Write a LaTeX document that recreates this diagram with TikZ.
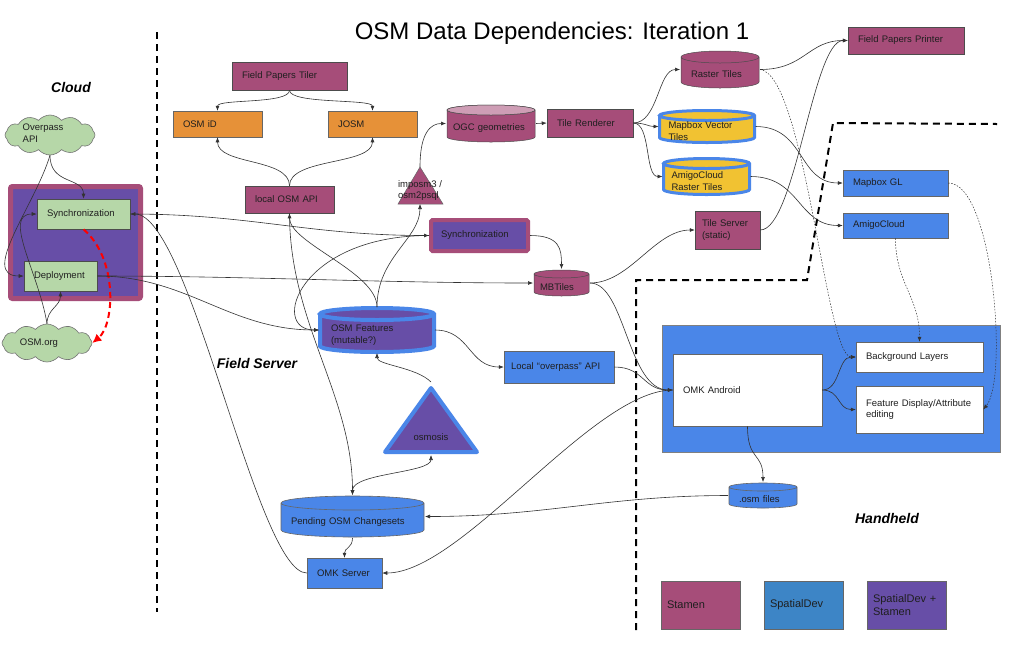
\documentclass[tikz,border=0pt]{standalone}
\usepackage{fontspec}
\setmainfont{Liberation Sans}
\usetikzlibrary{shapes.symbols,arrows.meta}

\definecolor{stm}{HTML}{A64D79}
\definecolor{spd}{HTML}{674EA7}
\definecolor{org}{HTML}{E69138}
\definecolor{grn}{HTML}{B6D7A8}
\definecolor{blu}{HTML}{4A86E8}
\definecolor{blutwo}{HTML}{3D85C6}
\definecolor{ylw}{HTML}{F1C232}
\definecolor{edgec}{HTML}{333333}
\definecolor{txt}{HTML}{1F1F1F}

\newcommand\mybox[7]{%
 \pgfmathsetmacro\mybw{#4-#2}%
 \pgfmathsetmacro\mybh{#5-#3}%
 \pgfmathsetmacro\mytw{#4-#2-20}%
 \pgfmathsetmacro\mycx{(#2+#4)/2}%
 \pgfmathsetmacro\mycy{(#3+#5)/2}%
 \node[minimum width=\mybw pt, minimum height=\mybh pt, text width=\mytw pt, inner xsep=10pt, inner ysep=0pt, align=left, #6] (#1) at (\mycx,\mycy) {#7};}

\newcommand\mycyl[9]{%
 \pgfmathsetmacro\myrx{(#4-#2)/2}%
 \pgfmathsetmacro\mycx{(#2+#4)/2}%
 \pgfmathsetmacro\mycy{(#3+#5)/2}%
 \pgfmathsetmacro\myty{(#3+#5)/2+#6/2+2}%
 \pgfmathsetmacro\mybw{#4-#2}%
 \pgfmathsetmacro\mybh{#5-#3}%
 \pgfmathsetmacro\mytw{#4-#2-2*#9}%
 \draw[#7] (#2,#3+#6) -- (#2,#5-#6) arc[start angle=180,end angle=360,x radius=\myrx pt,y radius=#6 pt] -- (#4,#3+#6) arc[start angle=0,end angle=360,x radius=\myrx pt,y radius=#6 pt];
 \node[inner sep=0pt, outer sep=1pt, minimum width=\mybw pt, minimum height=\mybh pt] (#1) at (\mycx,\mycy) {};
 \node[ntext, inner sep=0pt, text width=\mytw pt, align=left] at (\mycx,\myty) {#8};}

\begin{document}
\begin{tikzpicture}[x=1pt,y=-1pt,
  ntext/.style={text=txt, font=\fontsize{9.5}{11.5}\selectfont},
  stbox/.style={ntext, fill=stm, draw=black!70, line width=0.5pt},
  orbox/.style={ntext, fill=org, draw=black!60, line width=0.5pt},
  blbox/.style={ntext, fill=blu, draw=black!60, line width=0.5pt},
  wbox/.style={ntext, fill=white, draw=black!60, line width=0.5pt},
  gnbox/.style={ntext, fill=grn, draw=black!70, line width=0.6pt},
  syncbox/.style={ntext, fill=spd, draw=stm, line width=4pt, rounded corners=1.5pt},
  lgbox/.style={text=txt, font=\fontsize{11}{13}\selectfont, draw=black!60, line width=0.5pt, inner xsep=6pt, text width=67pt},
  cst/.style={fill=stm, draw=black!70, line width=0.5pt},
  ccyl/.style={fill=blu, draw=black!60, line width=0.6pt},
  cloudn/.style={cloud, cloud puffs=12, cloud puff arc=100, aspect=2.3, draw=black!55, fill=grn, line width=0.6pt, inner sep=0pt},
  ed/.style={draw=edgec, line width=0.6pt, -{Latex[length=5pt,width=4pt]}},
  dotl/.style={draw=edgec, line width=0.5pt, dash pattern=on 1.5pt off 1.5pt, -{Latex[length=5pt,width=4pt]}},
  bnd/.style={draw=black, line width=2pt, dash pattern=on 7pt off 5pt},
  zone/.style={text=black, font=\bfseries\itshape\fontsize{14}{16}\selectfont}
]
\useasboundingbox (0,0) rectangle (1024,649);
\fill[white] (0,0) rectangle (1024,649);

% title and zone labels
\node[text=black, font=\fontsize{24}{28}\selectfont] (title) at (552,33) {OSM Data Dependencies: Iteration 1};
\node[zone] (lcloud) at (71,87) {Cloud};
\node[zone] (lfield) at (257,363) {Field Server};
\node[zone] (lhand) at (887,518) {Handheld};

% boundaries
\coordinate (b1t) at (157,32);
\coordinate (b1b) at (157,612);
\draw[bnd] (b1t) -- (b1b);
\coordinate (h1) at (636,630);
\coordinate (h2) at (636,280);
\coordinate (h3) at (807,280);
\coordinate (h4) at (833,123);
\coordinate (h5) at (997,124);
\draw[bnd] (h1) -- (h2) -- (h3) -- (h4) -- (h5);

% ---------- Cloud ----------
\node[cloudn, minimum width=90pt, minimum height=40pt] (ovp) at (50,135) {};
\node[ntext, align=left] (ovpt) at (43,133) {Overpass\\API};
\node[cloudn, minimum width=90pt, minimum height=38pt] (osmorg) at (47,343) {};
\node[ntext] (osmorgt) at (39,343) {OSM.org};
\node[draw=stm, fill=spd, line width=5pt, rounded corners=2pt, minimum width=130pt, minimum height=112pt, inner sep=0pt] (cloudbox) at (75.5,242.5) {};
\mybox{csync}{37}{199}{130}{229}{gnbox}{Synchronization}
\mybox{dep}{24}{261}{97}{291}{gnbox}{Deployment}

% ---------- Field server ----------
\mybox{fpt}{232}{62}{347}{90}{stbox}{Field Papers Tiler}
\mybox{osmid}{173}{111}{262}{137}{orbox}{OSM iD}
\mybox{josm}{328}{111}{417}{137}{orbox}{JOSM}
\mybox{lapi}{245}{186}{334}{213}{stbox}{local OSM API}
\mybox{tr}{547}{109}{633}{137}{stbox}{Tile Renderer}
\mybox{fsync}{431}{220}{528}{251}{syncbox}{Synchronization}
\mybox{lop}{504}{351}{614}{383}{blbox, inner xsep=7pt, text width=96pt}{Local “overpass” API}
\mybox{omks}{307}{558}{382}{588}{blbox}{OMK Server}

\mycyl{ogc}{447}{105}{535}{142}{5}{cst}{OGC geometries}{6}
\draw[fill=stm!55!white, draw=black!70, line width=0.5pt] (491,110) ellipse [x radius=44pt, y radius=5pt];
\mycyl{mbt}{534}{270}{589}{296}{4}{cst}{MBTiles}{6}
\mycyl{osmf}{320}{308}{434}{352}{6}{fill=spd,draw=blu,line width=4pt}{OSM Features\\(mutable?)}{11}
\mycyl{pend}{281}{496}{424}{537}{7}{ccyl}{Pending OSM Changesets}{10}

% imposm triangle
\coordinate (impt) at (420,167);
\coordinate (impb) at (420,204);
\draw[fill=stm, draw=black!60, line width=0.5pt] (impt) -- (443,204) -- (398,204) -- cycle;
\node[ntext, align=left, inner sep=0pt] (impx) at (420,190.5) {imposm3 /\\osm2psql};

% osmosis triangle
\coordinate (osmt) at (431,382);
\coordinate (osmb) at (431,455);
\draw[fill=spd, draw=blu, line width=4pt, line join=round] (431,388) -- (477,452) -- (385,452) -- cycle;
\node[ntext] (osmx) at (431,437) {osmosis};

% ---------- top right ----------
\mycyl{rast}{681}{51}{759}{88}{6}{cst}{Raster Tiles}{10}
\mycyl{mvt}{659.5}{110.5}{754.5}{142.5}{5}{fill=ylw,draw=blu,line width=3pt}{Mapbox Vector\\Tiles}{9}
\mycyl{acrt}{663.5}{158.5}{749.5}{194.5}{5}{fill=ylw,draw=blu,line width=3pt}{AmigoCloud\\Raster Tiles}{8}
\mybox{ts}{695}{211}{760}{249}{stbox, inner xsep=7pt, text width=51pt}{Tile Server\\(static)}
\mybox{fpp}{848}{27}{964}{54}{stbox}{Field Papers Printer}
\mybox{mgl}{843}{170}{948}{196}{blbox}{Mapbox GL}
\mybox{ac}{843}{213}{948}{238}{blbox}{AmigoCloud}

% ---------- Handheld ----------
\node[draw=black!50, fill=blu, line width=0.5pt, minimum width=338pt, minimum height=127pt, inner sep=0pt] (hh) at (831,388.5) {};
\mybox{oa}{673}{354}{822}{426}{wbox}{OMK Android}
\mybox{bg}{856}{342}{983}{372}{wbox}{Background Layers}
\mybox{fd}{856}{386}{983}{433}{wbox}{Feature Display/Attribute\\editing}
\mycyl{osmfl}{729}{483}{797}{508}{4}{ccyl}{.osm files}{10}

% legend
\mybox{lgst}{661}{581}{740}{629}{lgbox, fill=stm}{Stamen}
\mybox{lgsd}{764}{581}{843}{629}{lgbox, fill=blutwo}{SpatialDev}
\mybox{lgss}{867}{581}{946}{629}{lgbox, fill=spd}{SpatialDev +\\Stamen}

% ---------- connectors ----------
% cloud
\draw[ed] (ovp.south) .. controls +(0,30) and +(0,-22) .. (csync.north);
\draw[ed] (ovp.south) .. controls +(-15,50) and +(-45,0) .. (dep.west);
\draw[ed] (osmorg.north) .. controls +(0,-15) and +(0,15) .. (dep.south);
\draw[ed] (osmorg.north) .. controls +(-8,-50) and +(-35,0) .. (csync.west);
\draw[red, line width=2pt, dash pattern=on 6pt off 4pt, -{Latex[length=9pt,width=9pt]}] (csync.south) .. controls +(35,30) and +(22,-18) .. (osmorg.east);

% cloud to field
\draw[ed] (csync.east) .. controls +(120,0) and +(-120,0) .. (fsync.west);
\draw[ed] (omks.west) .. controls +(-50,0) and +(60,0) .. (csync.east);
\draw[ed] (dep.east) .. controls +(150,0) and +(-150,0) .. (mbt.west);
\draw[ed] (dep.east) .. controls +(90,0) and +(-90,0) .. (osmf.west);

% field server
\draw[ed] (fpt.south) .. controls +(0,14) and +(0,-12) .. (osmid.north);
\draw[ed] (fpt.south) .. controls +(0,14) and +(0,-12) .. (josm.north);
\draw[ed] (lapi.north) .. controls +(0,-28) and +(0,28) .. (osmid.south);
\draw[ed] (lapi.north) .. controls +(0,-28) and +(0,28) .. (josm.south);
\draw[ed] (impt) .. controls +(0,-35) and +(-15,0) .. (ogc.west);
\draw[ed] (ogc.east) -- (tr.west);
\draw[ed] (osmf.north) .. controls +(0,-35) and +(0,30) .. (lapi.south);
\draw[ed] (lapi.south) .. controls +(0,110) and +(0,-100) .. (pend.north);
\draw[ed] (osmf.north) .. controls +(0,-50) and +(0,35) .. (impb);
\draw[ed] (fsync.west) .. controls +(-130,0) and +(-50,0) .. (osmf.west);
\draw[ed] (osmt) .. controls +(-15,-15) and +(0,12) .. (osmf.south);
\draw[draw=edgec, line width=0.6pt, {Latex[length=5pt,width=4pt]}-{Latex[length=5pt,width=4pt]}] (osmb) .. controls +(0,18) and +(0,-22) .. (pend.north);
\draw[ed] (osmf.east) .. controls +(35,0) and +(-35,0) .. (lop.west);
\draw[ed] (fsync.east) .. controls +(30,0) and +(0,-20) .. (mbt.north);
\draw[ed] (pend.south) .. controls +(0,10) and +(0,-10) .. (omks.north);

% tiles
\draw[ed] (tr.east) .. controls +(25,0) and +(-22,0) .. (rast.west);
\draw[ed] (tr.east) .. controls +(12,0) and +(-10,0) .. (mvt.west);
\draw[ed] (tr.east) .. controls +(18,0) and +(-18,0) .. (acrt.west);
\draw[ed] (rast.east) .. controls +(45,0) and +(-40,0) .. (fpp.west);
\draw[ed] (ts.east) .. controls +(35,0) and +(-35,0) .. (fpp.west);
\draw[ed] (mvt.east) .. controls +(50,0) and +(-45,0) .. (mgl.west);
\draw[ed] (acrt.east) .. controls +(50,0) and +(-45,0) .. (ac.west);
\draw[ed] (mbt.east) .. controls +(40,0) and +(-40,0) .. (ts.west);
\draw[dotl] (rast.east) .. controls +(45,5) and +(-30,0) .. (bg.west);
\draw[dotl] (ac.south) .. controls +(0,45) and +(0,-45) .. (bg.north);
\draw[dotl] (mgl.east) .. controls +(45,0) and +(25,-30) .. (fd.east);

% handheld
\draw[ed] (mbt.east) .. controls +(35,0) and +(-45,0) .. (oa.west);
\draw[ed] (lop.east) .. controls +(30,0) and +(-30,0) .. (oa.west);
\draw[ed] (oa.west) .. controls +(-80,0) and +(80,0) .. (omks.east);
\draw[ed] (oa.east) .. controls +(18,0) and +(-18,0) .. (bg.west);
\draw[ed] (oa.east) .. controls +(18,0) and +(-18,0) .. (fd.west);
\draw[ed] (oa.south) .. controls +(0,35) and +(0,-30) .. (osmfl.north);
\draw[ed] (osmfl.west) .. controls +(-120,0) and +(120,0) .. (pend.east);
\end{tikzpicture}
\end{document}
